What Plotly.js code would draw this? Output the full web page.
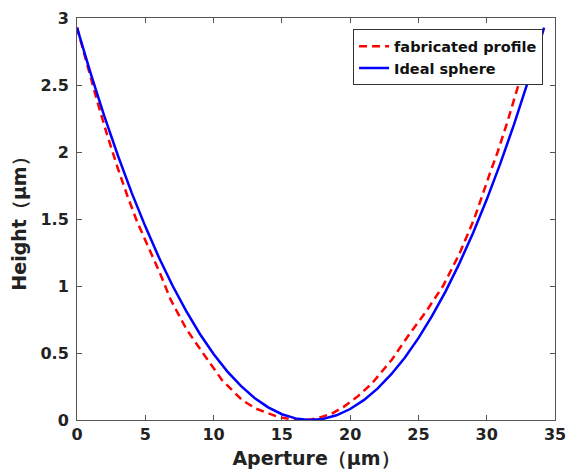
<!DOCTYPE html>
<html>
<head>
<meta charset="utf-8">
<script src="https://cdn.plot.ly/plotly-3.0.1.min.js"></script>
<style>html,body{margin:0;padding:0;background:#fff;}#chart{width:568px;height:472px;}</style>
</head>
<body>
<div id="chart"></div>
<script>
// Ideal sphere
const sphereX = [0,1,2,3,4,5,6,7,8,9,10,11,12,13,14,15,16,17,18,19,20,21,22,23,24,25,26,27,28,29,30,31,32,33,34,34.2];
const sphereY = [2.928,2.587,2.268,1.972,1.697,1.445,1.213,1.002,0.812,0.642,0.493,0.363,0.254,0.164,0.094,0.043,0.012,0.000,0.008,0.035,0.082,0.148,0.234,0.340,0.465,0.611,0.777,0.962,1.169,1.396,1.645,1.915,2.206,2.520,2.858,2.928];
// Fabricated profile
const fabX = [0,0.7,1.45,2.2,2.95,3.7,4.4,5.4,6.1,6.85,8.0,9.08,10.6,12.07,13.1,14.0,14.8,15.5,16.5,17.2,17.8,18.7,19.55,20.6,21.57,23.05,24.4,25.5,26.8,28.0,29.08,30.23,30.8,31.5,32.19,32.43,33.2,33.5];
const fabY = [2.93,2.66,2.39,2.13,1.89,1.67,1.48,1.25,1.09,0.90,0.68,0.52,0.30,0.15,0.085,0.05,0.02,0.01,0.0,0.005,0.02,0.05,0.10,0.18,0.27,0.45,0.65,0.80,1.00,1.24,1.50,1.84,2.00,2.22,2.46,2.55,2.80,2.88];
const xTicks = [0,5,10,15,20,25,30,35];
const yTicks = [0,0.5,1,1.5,2,2.5,3];

const FONT = 'DejaVu Sans, Liberation Sans, Arial, sans-serif';
const traces = [
  {x: fabX, y: fabY, type: 'scatter', mode: 'lines', name: 'fabricated profile',
   line: {color: '#ff0000', width: 2.5, dash: '8px,5px'}},
  {x: sphereX, y: sphereY, type: 'scatter', mode: 'lines', name: 'Ideal sphere',
   line: {color: '#0000ff', width: 2.5}}
];
const axisCommon = {
  showline: true, linecolor: '#555', linewidth: 1, mirror: 'allticks',
  ticks: 'inside', ticklen: 5, tickcolor: '#555', showgrid: false, zeroline: false,
  tickfont: {family: FONT, size: 16, color: '#222', weight: 'bold'}
};
const layout = {
  width: 568, height: 472,
  margin: {l: 77, r: 13, t: 18, b: 52},
  paper_bgcolor: '#fff', plot_bgcolor: '#fff',
  showlegend: true,
  legend: {x: 0.975, y: 0.972, xanchor: 'right', yanchor: 'top',
    bgcolor: '#fff', bordercolor: '#333', borderwidth: 1,
    font: {family: FONT, size: 14.5, color: '#111', weight: 'bold'},
    tracegroupgap: 0, itemwidth: 30},
  xaxis: Object.assign({}, axisCommon, {range: [0, 35], tickvals: xTicks,
    title: {text: 'Aperture（μm）', font: {family: FONT, size: 19, color: '#222', weight: 'bold'}, standoff: 8}}),
  yaxis: Object.assign({}, axisCommon, {range: [0, 3], tickvals: yTicks, ticklabelstandoff: 4,
    title: {text: 'Height（μm）', font: {family: FONT, size: 19, color: '#222', weight: 'bold'}, standoff: 8}})
};
Plotly.newPlot('chart', traces, layout, {displayModeBar: false, staticPlot: true});
</script>
</body>
</html>
